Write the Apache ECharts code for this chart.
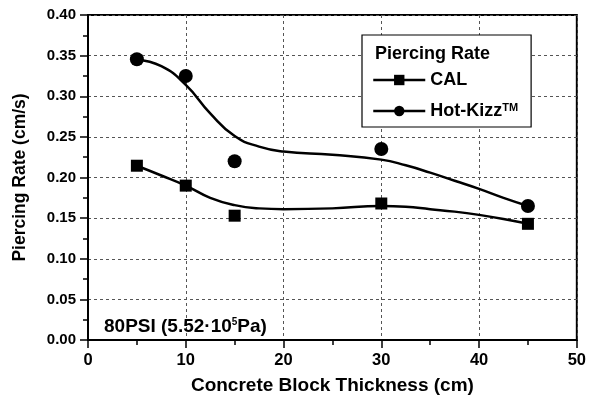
<!DOCTYPE html>
<html>
<head>
<meta charset="utf-8">
<script src="https://cdn.jsdelivr.net/npm/echarts@6/dist/echarts.min.js"></script>
<style>html,body{margin:0;padding:0;background:#fff;}#c{width:589px;height:402px;}</style>
</head>
<body>
<div id="c"></div>
<script>
// measured data points
var thickness = [5, 10, 15, 30, 45];
var calRate = [0.2145, 0.190, 0.153, 0.168, 0.143];
var hotRate = [0.3455, 0.325, 0.220, 0.235, 0.165];
// fitted curves
var curveX = [5, 7.5, 10, 12.5, 15, 17.5, 20, 25, 30, 32.5, 35, 37.5, 40, 42.5, 45];
var calCurve = [0.2145, 0.2025, 0.190, 0.175, 0.166, 0.162, 0.161, 0.162, 0.165, 0.164, 0.161, 0.158, 0.154, 0.149, 0.143];
var hotCurve = [0.345, 0.337, 0.314, 0.279, 0.251, 0.238, 0.232, 0.228, 0.222, 0.215, 0.206, 0.196, 0.186, 0.175, 0.165];
var xTicks = [0, 10, 20, 30, 40, 50];
var yTicks = [0.00, 0.05, 0.10, 0.15, 0.20, 0.25, 0.30, 0.35, 0.40];

function zip(a, b) { return a.map(function (v, i) { return [v, b[i]]; }); }

var FONT = 'Liberation Sans, Arial, sans-serif';
var chart = echarts.init(document.getElementById('c'), null, {renderer: 'canvas'});
chart.setOption({
  animation: false,
  backgroundColor: '#fff',
  grid: {left: 88, top: 15, right: 11, bottom: 62, show: true, borderColor: '#000', borderWidth: 2, backgroundColor: 'transparent'},
  title: {
    text: 'Piercing Rate', left: 375, top: 45, padding: 0, z: 10,
    textStyle: {fontFamily: FONT, fontWeight: 'bold', fontSize: 18, color: '#000', lineHeight: 18}
  },
  legend: {
    data: ['CAL', 'Hot-Kizz'],
    orient: 'vertical', left: 362, top: 35,
    padding: [36, 13, 7, 10],
    itemGap: 13, itemWidth: 52, itemHeight: 13,
    borderColor: '#000', borderWidth: 1.2,
    backgroundColor: '#fff',
    lineStyle: {width: 2.5, color: '#000', opacity: 1},
    textStyle: {fontFamily: FONT, fontWeight: 'bold', fontSize: 18, color: '#000', lineHeight: 18,
      rich: {sup: {fontFamily: FONT, fontWeight: 'bold', fontSize: 11, color: '#000', lineHeight: 18, verticalAlign: 'top'}}},
    formatter: function (n) { return n === 'Hot-Kizz' ? 'Hot-Kizz{sup|TM}' : n; }
  },
  graphic: [{
    type: 'text', left: 104, top: 317, z: 100,
    style: {
      rich: {
        a: {fontFamily: FONT, fontWeight: 'bold', fontSize: 19, fill: '#000', lineHeight: 20},
        s: {fontFamily: FONT, fontWeight: 'bold', fontSize: 10, fill: '#000', lineHeight: 20, verticalAlign: 'top'}
      },
      text: '{a|80PSI (5.52·10}{s|5}{a|Pa)}'
    }
  }],
  xAxis: {
    type: 'value', min: 0, max: 50, interval: 10,
    name: 'Concrete Block Thickness (cm)', nameLocation: 'middle', nameGap: 36,
    nameTextStyle: {fontFamily: FONT, fontWeight: 'bold', fontSize: 19, color: '#000'},
    axisLine: {lineStyle: {color: '#000', width: 2}},
    axisTick: {show: true, length: 8, lineStyle: {color: '#000', width: 1.5}},
    minorTick: {show: true, splitNumber: 2, length: 5, lineStyle: {color: '#000', width: 1.5}},
    axisLabel: {fontFamily: FONT, fontWeight: 'bold', fontSize: 16.5, color: '#000', margin: 12},
    splitLine: {show: true, lineStyle: {color: '#555', type: [3, 3], width: 1}}
  },
  yAxis: {
    type: 'value', min: 0, max: 0.4, interval: 0.05,
    name: 'Piercing Rate (cm/s)', nameLocation: 'middle', nameGap: 59,
    nameTextStyle: {fontFamily: FONT, fontWeight: 'bold', fontSize: 17.5, color: '#000'},
    axisLine: {show: true, lineStyle: {color: '#000', width: 2}},
    axisTick: {show: true, length: 8, lineStyle: {color: '#000', width: 1.5}},
    minorTick: {show: true, splitNumber: 2, length: 5, lineStyle: {color: '#000', width: 1.5}},
    axisLabel: {fontFamily: FONT, fontWeight: 'bold', fontSize: 15, color: '#000', margin: 12,
      formatter: function (v) { return v.toFixed(2); }},
    splitLine: {show: true, lineStyle: {color: '#555', type: [3, 3], width: 1}}
  },
  series: [
    {name: 'CAL fit', type: 'line', smooth: 0.5, showSymbol: false, data: zip(curveX, calCurve),
      lineStyle: {color: '#000', width: 2.5}, z: 3},
    {name: 'Hot-Kizz fit', type: 'line', smooth: 0.5, showSymbol: false, data: zip(curveX, hotCurve),
      lineStyle: {color: '#000', width: 2.5}, z: 3},
    {name: 'CAL', type: 'line', data: zip(thickness, calRate), symbol: 'rect', symbolSize: 12,
      itemStyle: {color: '#000'}, lineStyle: {width: 0, opacity: 0}, z: 5},
    {name: 'Hot-Kizz', type: 'line', data: zip(thickness, hotRate), symbol: 'circle', symbolSize: 14,
      itemStyle: {color: '#000'}, lineStyle: {width: 0, opacity: 0}, z: 5}
  ]
});
</script>
</body>
</html>
